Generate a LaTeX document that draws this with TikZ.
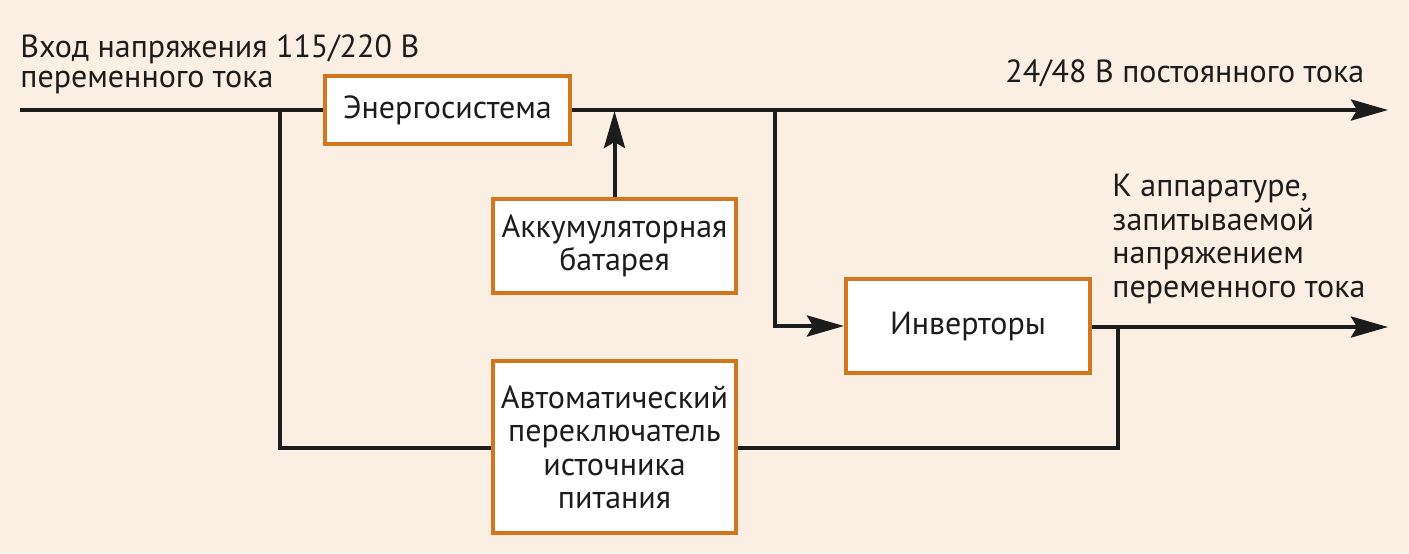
\documentclass[tikz,border=0pt]{standalone}
\usepackage{fontspec}
\setmainfont{PT Sans}
\usetikzlibrary{arrows.meta}
\definecolor{bg}{HTML}{FBEFE4}
\definecolor{orng}{HTML}{D2771E}
\definecolor{ink}{HTML}{1C1C1C}
\tikzset{
  box/.style={draw=orng, line width=2pt, fill=white, inner sep=0pt, align=center,
    font=\fontsize{16}{16.75}\selectfont, text=ink},
  wire/.style={draw=ink, line width=2pt},
  arr/.style={wire, -{Stealth[length=18.5pt,width=10.5pt,inset=3pt]}},
  lbl/.style={inner sep=0pt, align=left, text=ink},
}
\begin{document}
\begin{tikzpicture}[x=0.5pt,y=-0.5pt]
\fill[bg] (0,0) rectangle (1409,553);
\useasboundingbox (0,0) rectangle (1409,553);
% wires behind boxes
\coordinate (in) at (20,110);
\coordinate (out1) at (1388,110);
\coordinate (out2) at (1388,327);
\coordinate (j1) at (280,110);
\coordinate (j1b) at (280,448);
\coordinate (j2) at (775,110);
\coordinate (j2b) at (775,326);
\coordinate (j3) at (1118,327);
\coordinate (j3b) at (1118,448);
\coordinate (bt) at (614.5,111);

\node[box, minimum width=122.5pt, minimum height=34pt] (energo) at (447.5,110) {Энергосистема};
\node[box, minimum width=121.5pt, minimum height=47pt] (bat) at (614.5,246) {Аккумуляторная\\батарея};
\node[box, minimum width=122pt, minimum height=47pt] (inv) at (968,326) {Инверторы};

\draw[wire] (in) -- (energo.west);
\draw[arr] (energo.east) -- (out1);
\draw[wire] (j1) -- (j1b) -- (j3b) -- (j3);
\draw[arr] (j2) -- (j2b) -- (inv.west);
\draw[arr] (inv.east |- out2) -- (out2);
\draw[arr] (bat.north) -- (bt);

\node[box, minimum width=121.5pt, minimum height=86pt] (ats) at (614.5,447) {Автоматический\\переключатель\\источника\\питания};

\node[lbl, anchor=base west, font=\fontsize{16}{15}\selectfont] (t1) at (20,87) {Вход напряжения 115/220 В\\переменного тока};
\node[lbl, anchor=base west, font=\fontsize{16}{16.75}\selectfont] (t2) at (1005,82) {24/48 В постоянного тока};
\node[lbl, anchor=base west, font=\fontsize{16}{16.75}\selectfont] (t3) at (1112,297) {К аппаратуре,\\запитываемой\\напряжением\\переменного тока};
\end{tikzpicture}
\end{document}
